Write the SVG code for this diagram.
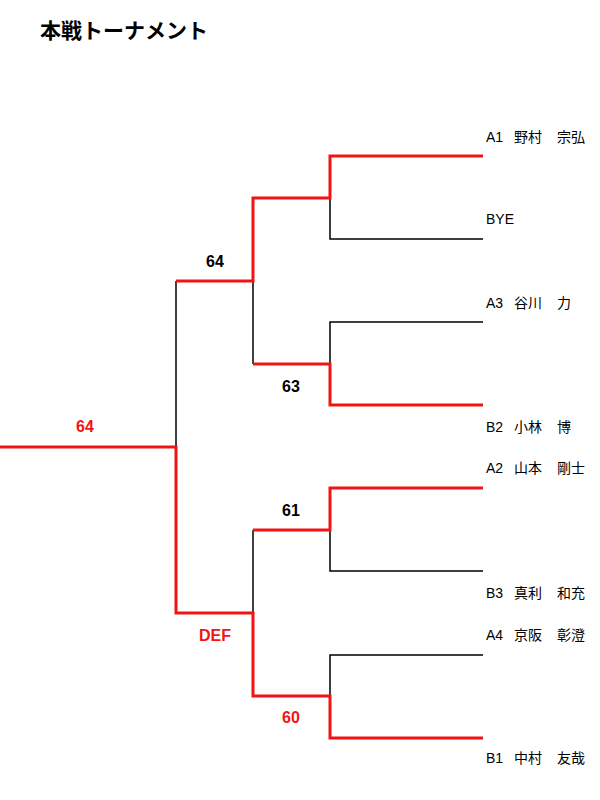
<svg xmlns="http://www.w3.org/2000/svg" width="600" height="800" viewBox="0 0 600 800">
<style>
.bg{fill:#ffffff}
.title{font-family:"Liberation Sans","Noto Sans CJK JP",sans-serif;font-size:21px;font-weight:bold;fill:#000}
.name{font-family:"Liberation Sans","Noto Sans CJK JP",sans-serif;font-size:14px;fill:#000}
.score{font-family:"Liberation Sans","Noto Sans CJK JP",sans-serif;font-size:16px;font-weight:bold;text-anchor:middle;fill:#000}
.win{fill:#f01414}
.lose{fill:none;stroke:#000;stroke-width:1.5}
.red{fill:none;stroke:#f01414;stroke-width:3}
</style>
<rect class="bg" x="0" y="0" width="600" height="800"/>
<text class="title" x="40" y="38">本戦トーナメント</text>
<g id="connectors">
<path class="lose" d="M176,281 V447"/>
<path class="lose" d="M253,281 V364"/>
<path class="lose" d="M330,198 V239 H483"/>
<path class="lose" d="M330,364 V322 H483"/>
<path class="lose" d="M253,530 V613"/>
<path class="lose" d="M330,530 V571 H483"/>
<path class="lose" d="M330,696 V655 H483"/>
<path class="red" d="M0,447 H176 V613 H253 V696 H330 V738 H483"/>
<path class="red" d="M176,281 H253 V198 H330 V156 H483"/>
<path class="red" d="M253,364 H330 V405 H483"/>
<path class="red" d="M253,530 H330 V488 H483"/>
</g>
<g id="p-a1"><text class="name" y="142"><tspan x="486">A1</tspan><tspan x="514">野村</tspan><tspan x="557">宗弘</tspan></text></g>
<g id="p-bye"><text class="name" x="486" y="224">BYE</text></g>
<g id="p-a3"><text class="name" y="308"><tspan x="486">A3</tspan><tspan x="514">谷川</tspan><tspan x="557">力</tspan></text></g>
<g id="p-b2"><text class="name" y="432"><tspan x="486">B2</tspan><tspan x="514">小林</tspan><tspan x="557">博</tspan></text></g>
<g id="p-a2"><text class="name" y="473"><tspan x="486">A2</tspan><tspan x="514">山本</tspan><tspan x="557">剛士</tspan></text></g>
<g id="p-b3"><text class="name" y="598"><tspan x="486">B3</tspan><tspan x="514">真利</tspan><tspan x="557">和充</tspan></text></g>
<g id="p-a4"><text class="name" y="640"><tspan x="486">A4</tspan><tspan x="514">京阪</tspan><tspan x="557">彰澄</tspan></text></g>
<g id="p-b1"><text class="name" y="763"><tspan x="486">B1</tspan><tspan x="514">中村</tspan><tspan x="557">友哉</tspan></text></g>
<g id="s-final"><text class="score win" x="85" y="432">64</text></g>
<g id="s-semi1"><text class="score" x="215" y="267">64</text></g>
<g id="s-semi2"><text class="score win" x="215" y="641">DEF</text></g>
<g id="s-q2"><text class="score" x="291" y="392">63</text></g>
<g id="s-q3"><text class="score" x="291" y="516">61</text></g>
<g id="s-q4"><text class="score win" x="291" y="723">60</text></g>
</svg>
